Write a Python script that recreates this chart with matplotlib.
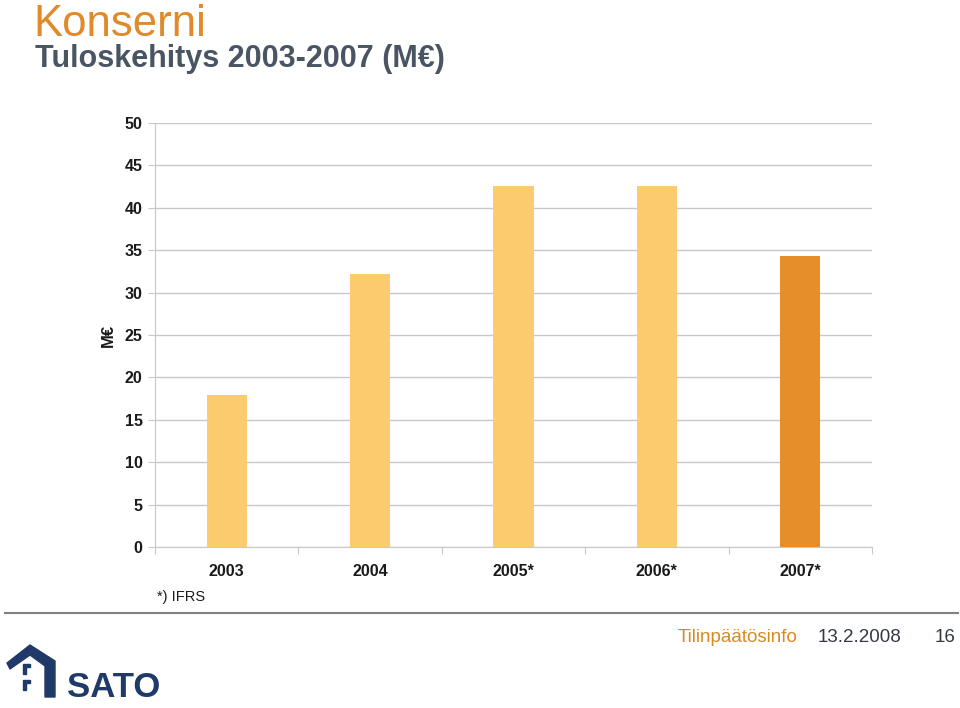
import numpy as np
import matplotlib.pyplot as plt
from matplotlib.patches import Polygon

plt.rcParams['font.family'] = ['Liberation Sans', 'DejaVu Sans']

years = ['2003', '2004', '2005*', '2006*', '2007*']
values = [17.9, 32.2, 42.6, 42.6, 34.3]
bar_colors = ['#FBCB6E', '#FBCB6E', '#FBCB6E', '#FBCB6E', '#E68E2A']
yticks = [0, 5, 10, 15, 20, 25, 30, 35, 40, 45, 50]

W, H = 960, 708
fig = plt.figure(figsize=(9.6, 7.08), dpi=100)

# main chart
ax = fig.add_axes([155 / W, 1 - 547 / H, (872 - 155) / W, (547 - 123) / H])
x = np.arange(len(years))
ax.bar(x, values, width=0.28, color=bar_colors, zorder=3)
ax.set_xlim(-0.5, len(years) - 0.5)
ax.set_ylim(0, 50)
ax.set_yticks(yticks)
ax.set_yticklabels([str(t) for t in yticks], fontsize=11.5, fontweight='bold', color='#1a1a1a')
ax.yaxis.grid(True, color='#c8c8c8', lw=1, zorder=0)
ax.tick_params(axis='y', length=5, color='#c8c8c8', pad=4)
ax.set_xticks(np.arange(len(years) + 1) - 0.5)
ax.set_xticklabels([])
ax.set_xticks(x, minor=True)
ax.set_xticklabels(years, minor=True, fontsize=11.5, fontweight='bold', color='#1a1a1a')
ax.tick_params(axis='x', which='major', length=5, color='#c8c8c8')
ax.tick_params(axis='x', which='minor', length=0, pad=12)
for side in ['left', 'bottom', 'right', 'top']:
    ax.spines[side].set_color('#c8c8c8')
ax.spines['top'].set_visible(False)
ax.spines['right'].set_visible(False)
ax.set_ylabel('M€', fontsize=12, fontweight='bold', labelpad=6, color='#1a1a1a')

# titles
fig.text(33 / W, 1 - 24 / H, 'Konserni', fontsize=31.5, color='#E08A2A', va='center', ha='left')
fig.text(35 / W, 1 - 59 / H, 'Tuloskehitys 2003-2007 (M€)', fontsize=22, fontweight='bold',
         color='#4A5563', va='center', ha='left')
fig.text(157 / W, 1 - 597 / H, '*) IFRS', fontsize=10.5, color='#1a1a1a', va='center', ha='left')

# footer line + text
fig.add_artist(plt.Line2D([5 / W, 958 / W], [1 - 613 / H, 1 - 613 / H], color='#808080', lw=1.5))
fig.text(678 / W, 1 - 637 / H, 'Tilinpäätösinfo', fontsize=13.5, color='#D68A22', va='center', ha='left')
fig.text(818 / W, 1 - 637 / H, '13.2.2008', fontsize=13.5, color='#333a44', va='center', ha='left')
fig.text(955 / W, 1 - 637 / H, '16', fontsize=13.5, color='#333a44', va='center', ha='right')

# logo
lax = fig.add_axes([0, 0, 170 / W, 73 / H])
lax.set_xlim(0, 170)
lax.set_ylim(708, 635)
lax.axis('off')
navy = '#1F3A68'
house = [(7, 663), (30, 645), (55, 661), (55, 697), (45, 697), (45, 666), (30, 655), (10, 669)]
lax.add_patch(Polygon(house, closed=True, color=navy))
for y0 in (664, 680):
    lax.add_patch(Polygon([(23, y0), (30, y0), (30, y0 + 3), (26, y0 + 3), (26, y0 + 10), (23, y0 + 10)],
                          closed=True, color=navy))
lax.text(67, 697, 'SATO', fontsize=25, fontweight='bold', color=navy, ha='left', va='baseline')

fig.savefig('out.png', dpi=100)
